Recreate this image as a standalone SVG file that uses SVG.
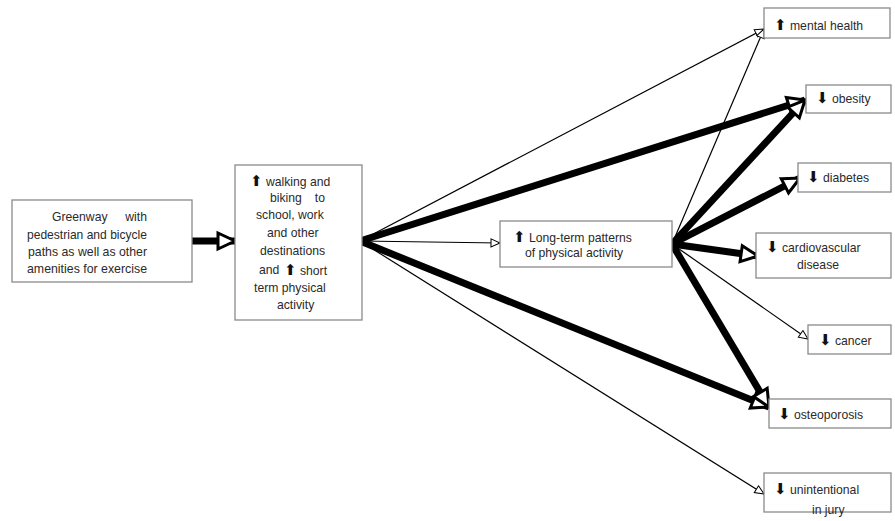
<svg xmlns="http://www.w3.org/2000/svg" width="895" height="521" viewBox="0 0 895 521">
<style>
.box{fill:#fff;stroke:#8a8a8a;stroke-width:1.3}
.t{font-family:"Liberation Sans",Arial,sans-serif;font-size:12.2px;fill:#2a2a2a}
.ar{font-family:"DejaVu Sans",sans-serif;font-size:15px;fill:#111}
.thick{stroke:#000;stroke-width:7;fill:none}
.thin{stroke:#000;stroke-width:1.2;fill:none}
</style>
<defs>
<marker id="big" markerUnits="userSpaceOnUse" markerWidth="24" markerHeight="24" viewBox="-20 -12 24 24" refX="0" refY="0" orient="auto" overflow="visible">
<path d="M-17,-8 L0,0 L-17,8 Z" fill="#fff" stroke="#000" stroke-width="3" stroke-linejoin="miter"/>
</marker>
<marker id="small" markerUnits="userSpaceOnUse" markerWidth="12" markerHeight="12" viewBox="-10 -6 12 12" refX="0" refY="0" orient="auto" overflow="visible">
<path d="M-9,-4 L0,0 L-9,4 Z" fill="#fff" stroke="#000" stroke-width="1"/>
</marker>
</defs>

<g id="connectors">
<line class="thick" x1="192" y1="241" x2="235" y2="241" marker-end="url(#big)"/>
<line class="thin" x1="360" y1="241" x2="764" y2="29" marker-end="url(#small)"/>
<line class="thick" x1="360" y1="241" x2="805" y2="100" marker-end="url(#big)"/>
<line class="thin" x1="360" y1="241" x2="500" y2="243" marker-end="url(#small)"/>
<line class="thick" x1="360" y1="241" x2="769" y2="407" marker-end="url(#big)"/>
<line class="thin" x1="360" y1="241" x2="764" y2="494" marker-end="url(#small)"/>
<line class="thin" x1="672" y1="244" x2="764" y2="29" marker-end="url(#small)"/>
<line class="thick" x1="672" y1="244" x2="805" y2="100" marker-end="url(#big)"/>
<line class="thick" x1="672" y1="244" x2="800" y2="178" marker-end="url(#big)"/>
<line class="thick" x1="672" y1="244" x2="758" y2="256" marker-end="url(#big)"/>
<line class="thin" x1="672" y1="244" x2="808" y2="339" marker-end="url(#small)"/>
<line class="thick" x1="672" y1="244" x2="769" y2="407" marker-end="url(#big)"/>
</g>

<g id="greenway">
<rect class="box" x="12" y="200" width="180" height="82"/>
<text class="t" x="52" y="221">Greenway</text>
<text class="t" x="147" y="221" text-anchor="end">with</text>
<text class="t" x="27" y="239" textLength="120" lengthAdjust="spacingAndGlyphs">pedestrian and bicycle</text>
<text class="t" x="28" y="256" textLength="119" lengthAdjust="spacingAndGlyphs">paths as well as other</text>
<text class="t" x="27" y="273" textLength="120" lengthAdjust="spacingAndGlyphs">amenities for exercise</text>
</g>

<g id="walking">
<rect class="box" x="235" y="165" width="127" height="155"/>
<text class="t" x="250" y="186"><tspan class="ar">⬆</tspan> walking and</text>
<text class="t" x="270" y="202">biking</text>
<text class="t" x="325" y="202" text-anchor="end">to</text>
<text class="t" x="256" y="219">school, work</text>
<text class="t" x="267" y="237">and other</text>
<text class="t" x="260" y="255">destinations</text>
<text class="t" x="259" y="274">and</text>
<text class="t" x="284" y="275"><tspan class="ar">⬆</tspan> short</text>
<text class="t" x="254" y="292">term physical</text>
<text class="t" x="277" y="309">activity</text>
</g>

<g id="longterm">
<rect class="box" x="500" y="221" width="172" height="46"/>
<text class="t" x="513" y="242"><tspan class="ar">⬆</tspan> Long-term patterns</text>
<text class="t" x="525" y="257">of physical activity</text>
</g>

<g id="mental">
<rect class="box" x="764" y="8" width="126" height="30"/>
<text class="t" x="774" y="30"><tspan class="ar">⬆</tspan> mental health</text>
</g>

<g id="obesity">
<rect class="box" x="806" y="85" width="85" height="28"/>
<text class="t" x="816" y="103"><tspan class="ar">⬇</tspan> obesity</text>
</g>

<g id="diabetes">
<rect class="box" x="798" y="163" width="93" height="29"/>
<text class="t" x="807" y="182"><tspan class="ar">⬇</tspan> diabetes</text>
</g>

<g id="cardio">
<rect class="box" x="756" y="233" width="135" height="45"/>
<text class="t" x="766" y="252"><tspan class="ar">⬇</tspan> cardiovascular</text>
<text class="t" x="797" y="269">disease</text>
</g>

<g id="cancer">
<rect class="box" x="808" y="325" width="83" height="29"/>
<text class="t" x="819" y="345"><tspan class="ar">⬇</tspan> cancer</text>
</g>

<g id="osteo">
<rect class="box" x="769" y="399" width="122" height="29"/>
<text class="t" x="778" y="419"><tspan class="ar">⬇</tspan> osteoporosis</text>
</g>

<g id="injury">
<rect class="box" x="764" y="473" width="127" height="39"/>
<text class="t" x="774" y="494"><tspan class="ar">⬇</tspan> unintentional</text>
<text class="t" x="812" y="514">in jury</text>
</g>
</svg>
